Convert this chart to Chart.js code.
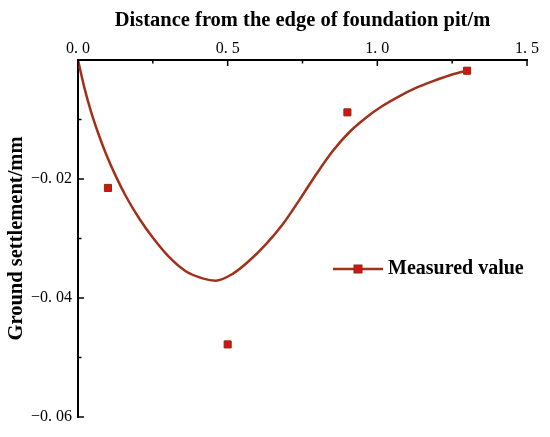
<!DOCTYPE html>
<html><head><meta charset="utf-8">
<script src="https://cdn.jsdelivr.net/npm/chart.js@4.4.0/dist/chart.umd.min.js"></script>
<style>html,body{margin:0;padding:0;background:#fff;}#wrap{width:550px;height:437px;}</style>
</head><body><div id="wrap"><canvas id="c" width="550" height="437"></canvas></div>
<script>
const curveX = [0, 0.021, 0.043, 0.066, 0.093, 0.127, 0.16, 0.204, 0.249, 0.304, 0.36, 0.416, 0.46, 0.518, 0.573, 0.629, 0.684, 0.74, 0.796, 0.851, 0.907, 0.962, 1.018, 1.073, 1.129, 1.184, 1.24, 1.296];
const curveY = [0, -0.0046, -0.0086, -0.0121, -0.0157, -0.0196, -0.0229, -0.0266, -0.0298, -0.0331, -0.0355, -0.0367, -0.0371, -0.0359, -0.0337, -0.0309, -0.0276, -0.0235, -0.0192, -0.0153, -0.0121, -0.0097, -0.0077, -0.0061, -0.0047, -0.0036, -0.0026, -0.0018];
const measuredX = [0.1, 0.5, 0.9, 1.3];
const measuredY = [-0.0215, -0.0478, -0.0088, -0.0018];
const xTickLabels = {0: '0. 0', 0.5: '0. 5', 1: '1. 0', 1.5: '1. 5'};
const yTickLabels = {'-0.02': '\u22120. 02', '-0.04': '\u22120. 04', '-0.06': '\u22120. 06'};
const legendLabel = 'Measured value';
const xTitle = 'Distance from the edge of foundation pit/m';
const yTitle = 'Ground settlement/mm';

const lineColor = '#A3301A';
const markerColor = '#D41414';
const markerBorder = '#8A2A10';
const serif = '"Liberation Serif", "DejaVu Serif", serif';

const inwardTicks = {
  id: 'inwardTicks',
  afterDraw(chart) {
    const ctx = chart.ctx, a = chart.chartArea;
    const xs = chart.scales.x, ys = chart.scales.y;
    ctx.save();
    ctx.strokeStyle = '#000';
    ctx.lineWidth = 1.5;
    xs.ticks.forEach(t => {
      const px = xs.getPixelForValue(t.value);
      const major = Math.abs(t.value * 2 - Math.round(t.value * 2)) < 1e-6;
      ctx.beginPath(); ctx.moveTo(px, a.top); ctx.lineTo(px, a.top + (major ? 6 : 3.5)); ctx.stroke();
    });
    ys.ticks.forEach(t => {
      const py = ys.getPixelForValue(t.value);
      const major = Math.abs(t.value * 50 - Math.round(t.value * 50)) < 1e-6;
      ctx.beginPath(); ctx.moveTo(a.left, py); ctx.lineTo(a.left + (major ? 6 : 3.5), py); ctx.stroke();
    });
    // legend
    const lx = 333, ly = 269;
    ctx.strokeStyle = lineColor; ctx.lineWidth = 2.5;
    ctx.beginPath(); ctx.moveTo(lx, ly); ctx.lineTo(lx + 50, ly); ctx.stroke();
    ctx.fillStyle = markerColor; ctx.fillRect(lx + 21, ly - 4, 8, 8);
    ctx.strokeStyle = markerBorder; ctx.lineWidth = 1; ctx.strokeRect(lx + 21, ly - 4, 8, 8);
    ctx.fillStyle = '#000'; ctx.font = 'bold 20px ' + serif;
    ctx.textBaseline = 'middle'; ctx.textAlign = 'left';
    ctx.fillText(legendLabel, lx + 55, ly);
    ctx.restore();
  }
};

new Chart(document.getElementById('c'), {
  type: 'scatter',
  data: {
    datasets: [
      {
        type: 'line',
        data: curveX.map((x, i) => ({x: x, y: curveY[i]})),
        borderColor: lineColor, borderWidth: 2.5, pointRadius: 0,
        cubicInterpolationMode: 'monotone', fill: false
      },
      {
        data: measuredX.map((x, i) => ({x: x, y: measuredY[i]})),
        pointStyle: 'rect', pointRadius: 5, backgroundColor: markerColor,
        borderColor: markerBorder, borderWidth: 1
      }
    ]
  },
  options: {
    responsive: false, animation: false, devicePixelRatio: 1,
    layout: {padding: {left: 0, top: 0, right: 23, bottom: 20}},
    plugins: {legend: {display: false}, tooltip: {enabled: false}},
    scales: {
      x: {
        type: 'linear', position: 'top', min: 0, max: 1.5,
        afterFit: s => { s.height = 60; },
        ticks: {stepSize: 0.25, padding: 2, color: '#000', maxRotation: 0,
          font: {family: serif, size: 16},
          callback: v => xTickLabels[v] !== undefined ? xTickLabels[v] : ''},
        grid: {drawOnChartArea: false, drawTicks: false},
        border: {color: '#000', width: 2},
        title: {display: true, text: xTitle, color: '#000', font: {family: serif, size: 20.5, weight: 'bold'}, padding: {top: 8, bottom: 4}}
      },
      y: {
        type: 'linear', min: -0.06, max: 0,
        afterFit: s => { s.width = 78; },
        ticks: {stepSize: 0.01, padding: 6, color: '#000',
          font: {family: serif, size: 16},
          callback: v => { const k = v.toFixed(2); return yTickLabels[k] !== undefined ? yTickLabels[k] : ''; }},
        grid: {drawOnChartArea: false, drawTicks: false},
        border: {color: '#000', width: 2},
        title: {display: true, text: yTitle, color: '#000', font: {family: serif, size: 20.5, weight: 'bold'}, padding: {top: 4, bottom: 2}}
      }
    }
  },
  plugins: [inwardTicks]
});
</script></body></html>
